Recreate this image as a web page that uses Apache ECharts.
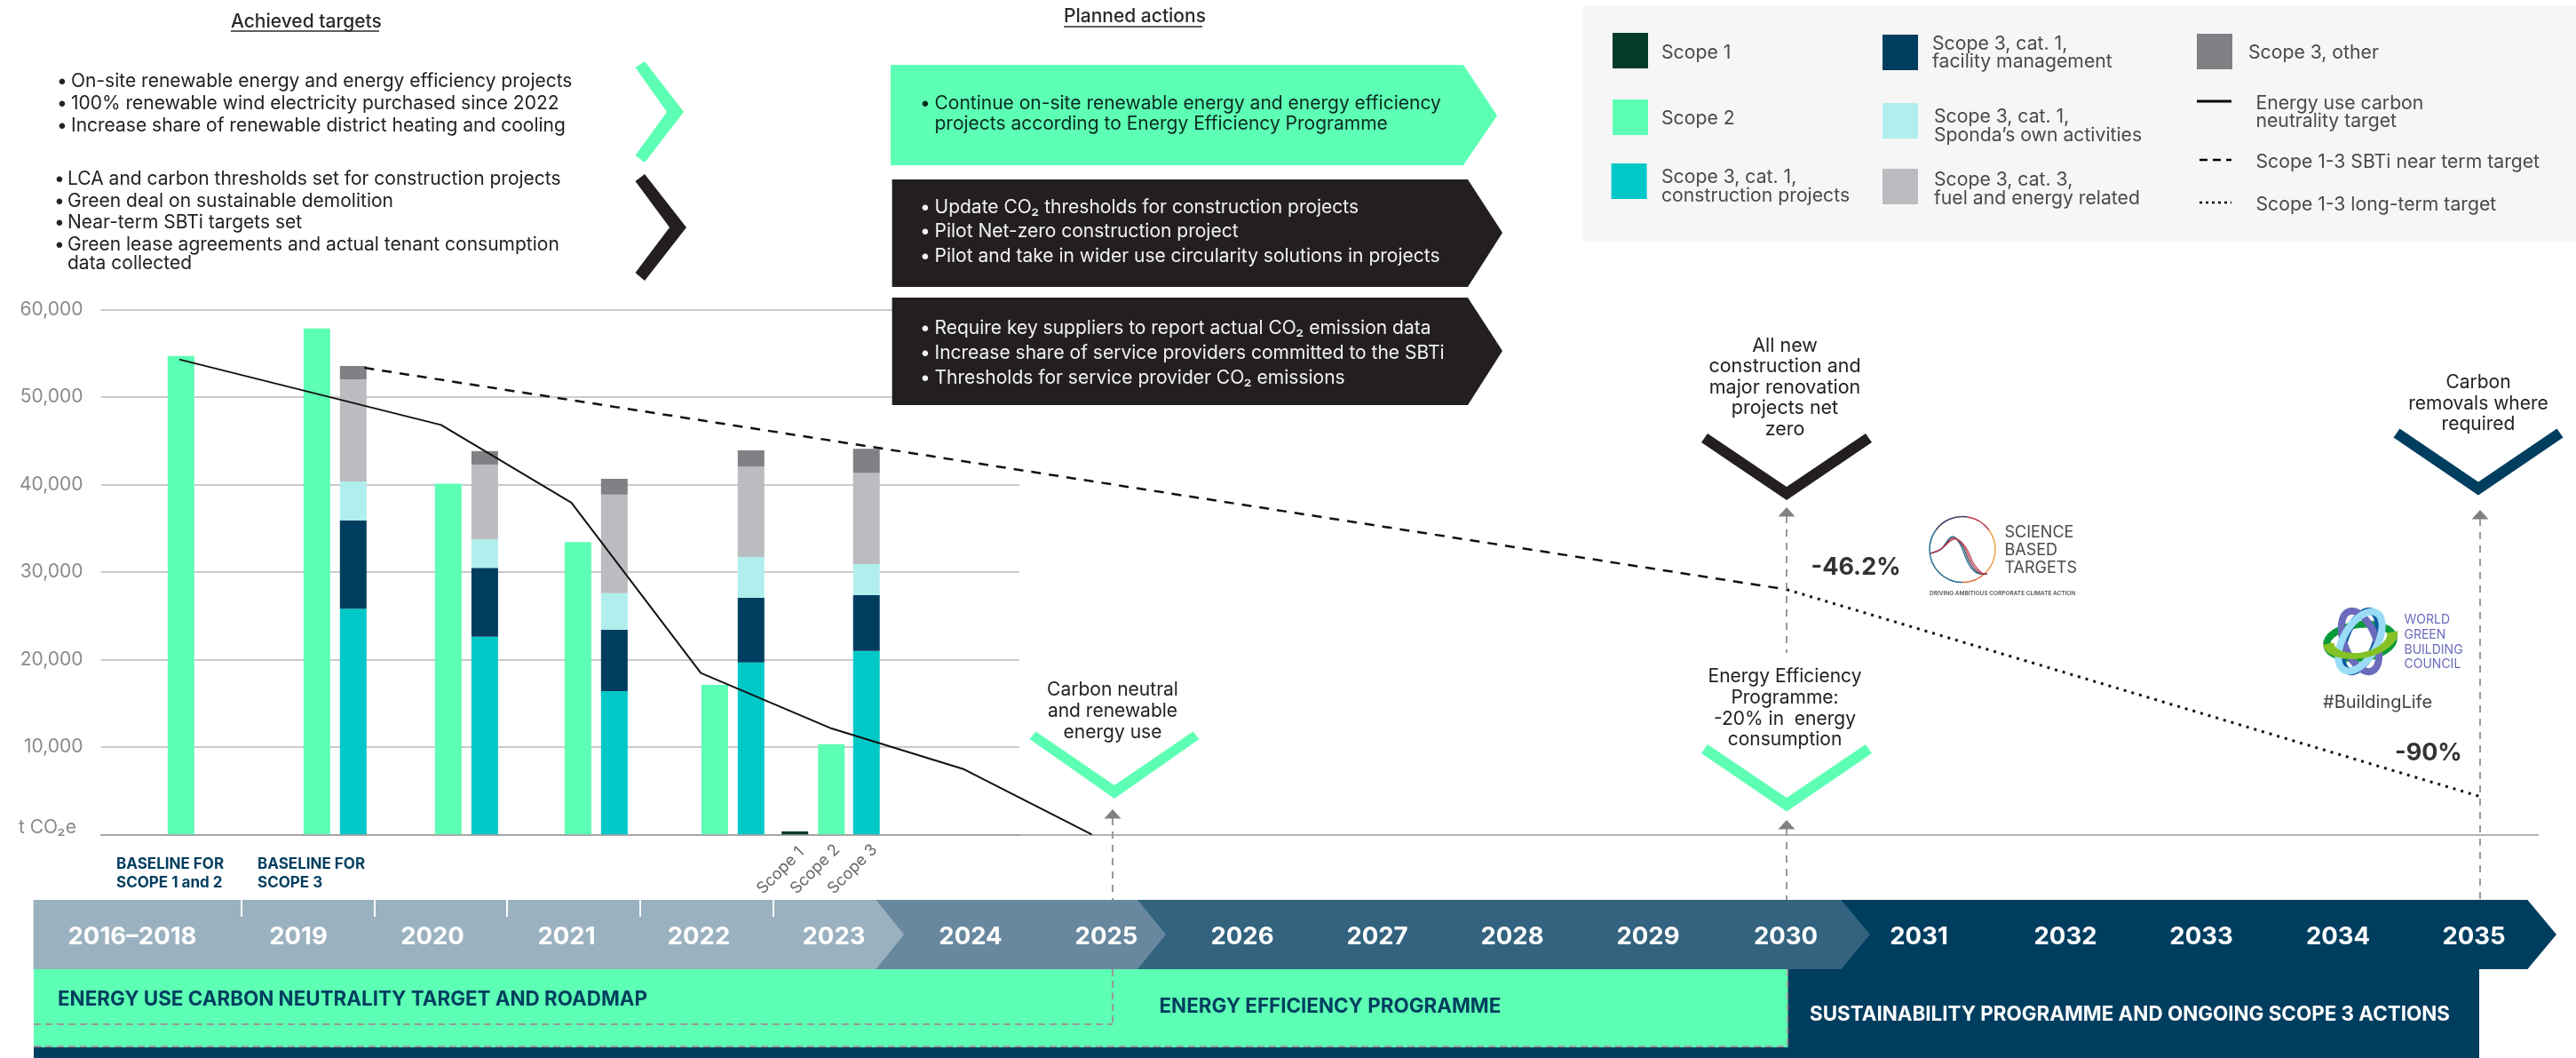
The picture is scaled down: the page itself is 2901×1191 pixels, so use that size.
<!DOCTYPE html>
<html><head><meta charset="utf-8">
<style>html,body{margin:0;padding:0;background:#fff}#c{width:2901px;height:1191px}</style>
<script src="https://cdn.jsdelivr.net/npm/echarts@6/dist/echarts.min.js"></script>
</head><body><div id="c"></div>
<script>
// ---------- data ----------
const barSlotYears = [2018.186, 2019.18, 2019.446, 2020.141, 2020.408, 2021.09, 2021.356, 2022.09, 2022.356, 2022.677, 2022.944, 2023.2];
const scope1       = [null, null, null, null, null, null, null, null, null, 350, null, null];
const scope2       = [54710, 57840, null, 40090, null, 33430, null, 17090, null, null, 10310, null];
const constructionProjects = [null, null, 25810, null, 22600, null, 16390, null, 19650, null, null, 20970];
const facilityManagement   = [null, null, 10090, null, 7880, null, 7000, null, 7400, null, null, 6390];
const ownActivities        = [null, null, 4450, null, 3260, null, 4190, null, 4670, null, null, 3560];
const fuelEnergyRelated    = [null, null, 11670, null, 8550, null, 11270, null, 10350, null, null, 10440];
const scope3Other          = [null, null, 1540, null, 1540, null, 1810, null, 1850, null, null, 2730];
const neutralityYears  = [2018.174, 2020.089, 2021.042, 2021.989, 2022.945, 2023.915, 2024.849];
const neutralityValues = [54310, 46820, 37930, 18460, 12110, 7440, 0];
const nearTermYears  = [2019.528, 2029.933];
const nearTermValues = [53350, 28000];
const longTermYears  = [2029.933, 2035.005];
const longTermValues = [28000, 4330];
const timelineYears = ['2016–2018','2019','2020','2021','2022','2023','2024','2025','2026','2027','2028','2029','2030','2031','2032','2033','2034','2035'];
const achievedGreen = ['On-site renewable energy and energy efficiency projects','100% renewable wind electricity purchased since 2022','Increase share of renewable district heating and cooling'];
const achievedBlack = ['LCA and carbon thresholds set for construction projects','Green deal on sustainable demolition','Near-term SBTi targets set','Green lease agreements and actual tenant consumption','data collected'];

// ---------- styles ----------
const GREEN='#5cffb4', NAVY='#003e5f', TEAL='#00c8c8', PALE='#b1efee', LGREY='#bbbcc0', GREY='#808184', DARK='#043b2b', BLACK='#231f20';
const FF='Inter, "Noto Sans", sans-serif';
const XMIN=2017.6, XMAX=2035.43, XMAX0=2024.319;
const yTicks=v=>v===0?'':v.toLocaleString('en-US');

// ---------- decoration helpers ----------
const G=[];
function T(text,x,y,size,fill,o={}){G.push({type:'text',x,y:y+1,rotation:o.rot||0,z:o.z||50,silent:true,style:{text,fill,align:o.align||'left',verticalAlign:'middle',fontFamily:FF,fontSize:size,fontWeight:o.w||400}});}
function P(pts,fill,z=40){G.push({type:'polygon',z,silent:true,shape:{points:pts},style:{fill}});}
function R(x,y,w,h,fill,z=40){G.push({type:'rect',z,silent:true,shape:{x,y,width:w,height:h},style:{fill}});}
function L(x1,y1,x2,y2,stroke,lineWidth,dash,z=45){G.push({type:'line',z,silent:true,shape:{x1,y1,x2,y2},style:{stroke,lineWidth,lineDash:dash||null}});}
function V(cx,top,half,innerBottom,outerBottom,fill){ // downward chevron
  P([[cx-half+7,top],[cx,innerBottom],[cx+half-7,top],[cx+half,top+10],[cx,outerBottom],[cx-half,top+10]],fill);
}
function upArrow(x,tip){P([[x,tip],[x+9.5,tip+10.5],[x-9.5,tip+10.5]],GREY,46);}

// headings
T('Achieved targets',260,24,21,'#2a2a2a',{w:500}); L(260,35,427,35,'#2a2a2a',1.5);
T('Planned actions',1198,18,21,'#2a2a2a',{w:500}); L(1198,30,1354,30,'#2a2a2a',1.5);
// achieved lists
[91,116,141].forEach((y,i)=>{T('•',64,y,21,'#222');T(achievedGreen[i],80,y,21,'#222');});
[201,226,250,275].forEach((y,i)=>{T('•',61,y,21,'#222');T(achievedBlack[i],76,y,21,'#222');});
T(achievedBlack[4],76,296,21,'#222');
P([[726,69],[770,126],[726,183],[715.5,175],[751,126],[715.5,76]],GREEN);
P([[726,196],[773,256],[726,316],[715.5,307],[754,256],[715.5,204]],BLACK);
// planned boxes
P([[1003,73],[1648,73],[1686,130],[1648,186],[1003,186]],GREEN);
P([[1004.6,202],[1653,202],[1692,262],[1653,323],[1004.6,323]],BLACK);
P([[1004.6,335],[1653,335],[1692,395],[1653,456],[1004.6,456]],BLACK);
[['Continue on-site renewable energy and energy efficiency',116,'#0c2a20'],['projects according to Energy Efficiency Programme',139,'#0c2a20']].forEach((a,i)=>{ if(i==0)T('•',1036,a[1],21,a[2]); T(a[0],1052.5,a[1],21,a[2]);});
[['Update CO₂ thresholds for construction projects',233],['Pilot Net-zero construction project',260],['Pilot and take in wider use circularity solutions in projects',288],
 ['Require key suppliers to report actual CO₂ emission data',369],['Increase share of service providers committed to the SBTi',397],['Thresholds for service provider CO₂ emissions',425]].forEach(a=>{T('•',1036,a[1],21,'#f2f2f2');T(a[0],1052.5,a[1],21,'#f2f2f2');});
// legend panel
R(1783,6,1118,265,'#f6f6f6',30);
[[1816,37,DARK],[1816,112,GREEN],[1814.6,184,TEAL],[2120,39,NAVY],[2120,116,PALE],[2120,190,LGREY],[2474,38,GREY]].forEach(s=>R(s[0],s[1],40,40,s[2],31));
const LG='#4a4a4a';
[['Scope 1',1871,59],['Scope 2',1871,133],['Scope 3, cat. 1,',1871,199],['construction projects',1871,220],['Scope 3, cat. 1,',2176,49],['facility management',2176,69],['Scope 3, cat. 1,',2178,131],['Sponda’s own activities',2178,152],['Scope 3, cat. 3,',2178,202],['fuel and energy related',2178,223],['Scope 3, other',2532,59],['Energy use carbon',2540.5,116],['neutrality target',2540.5,136],['Scope 1-3 SBTi near term target',2540.5,182],['Scope 1-3 long-term target',2540.5,230]].forEach(a=>T(a[0],a[1],a[2],21.2,LG));
L(2474,114,2513,114,'#000',3,null,31); L(2477,180,2513,180,'#000',2.5,[9,6],31); L(2477,228,2513,228,'#000',2.5,[3,4],31);
// axis unit and small notes
T('t CO₂e',21,930.5,21,'#8a8a8a');
[['BASELINE FOR',131,972],['SCOPE 1 and 2',131,992.6],['BASELINE FOR',290,972],['SCOPE 3',290,992.6]].forEach(a=>T(a[0],a[1],a[2],17,NAVY,{w:700}));
[['Scope 1',879,979],['Scope 2',918,977.5],['Scope 3',960,977.5]].forEach(a=>T(a[0],a[1],a[2],18,'#666',{align:'center',rot:Math.PI/4}));
// milestones
[['Carbon neutral',775.8],['and renewable',799.7],['energy use',823.5]].forEach(a=>T(a[0],1253,a[1],21,'#222',{align:'center'}));
P([[1166.5,823.5],[1255,884],[1343.5,823.5],[1350.5,832],[1255,899],[1159.5,832]],GREEN);
upArrow(1253,911); L(1253,921,1253,1013,'#999',2,[8,7]);
[['All new',389],['construction and',412],['major renovation',436],['projects net',459],['zero',483]].forEach(a=>T(a[0],2010,a[1],21.5,'#222',{align:'center'}));
V(2012,488,96,548,563,BLACK);
upArrow(2012,571); L(2012,581,2012,735,'#999',2,[8,7]);
[['Energy Efficiency',761],['Programme:',785],['-20% in  energy',808.6],['consumption',832]].forEach(a=>T(a[0],2010,a[1],21,'#222',{align:'center'}));
V(2012,838,96,898,913.5,GREEN);
upArrow(2012,923); L(2012,933,2012,1013,'#999',2,[8,7]);
[['Carbon',430],['removals where',453.5],['required',477]].forEach(a=>T(a[0],2791,a[1],21,'#222',{align:'center'}));
V(2791,482.4,95.5,542.4,557.6,NAVY);
upArrow(2793,574); L(2793,584,2793,1013,'#999',2,[8,7]);
T('-46.2%',2039.5,638,27,'#333',{w:700}); T('-90%',2697,847,27,'#333',{w:700});
// Science Based Targets mark
const arcs=[['#1f6d8f',Math.PI*0.5,Math.PI*1.2],['#3a3f63',Math.PI*1.2,Math.PI*1.55],['#c2354a',Math.PI*1.55,Math.PI*1.8],['#f0a04a',Math.PI*1.8,Math.PI*2.25],['#e0703c',Math.PI*0.25,Math.PI*0.5]];
arcs.forEach(a=>G.push({type:'arc',z:50,silent:true,shape:{cx:2210,cy:618.5,r:37,startAngle:a[1],endAngle:a[2]},style:{stroke:a[0],fill:null,lineWidth:1.5}}));
[['#1f6d8f',0],['#3a3f63',2],['#a8454f',4],['#c2354a',6]].forEach(a=>G.push({type:'polyline',z:50,silent:true,shape:{smooth:0.4,points:[[2174,623],[2186,618],[2198+a[1]/2,604+a[1]/2],[2207+a[1],612+a[1]/2],[2217+a[1],635],[2226+a[1],645],[2238,646]]},style:{stroke:a[0],fill:null,lineWidth:1.2}}));
[['SCIENCE',599],['BASED',619],['TARGETS',639]].forEach(a=>T(a[0],2257.5,a[1],18,'#4a4a4a'));
T('DRIVING AMBITIOUS CORPORATE CLIMATE ACTION',2173,667,6.5,'#555',{w:600});
// World GBC mark
[['#0b9a3a',38,19,0.12],['#0b5aa5',36,17,1.2],['#6a6bbd',36,18,-1.2],['#9adcf5',37,19,1.05]].forEach(e=>G.push({type:'ellipse',z:50,silent:true,x:2658,y:722,rotation:e[3],shape:{cx:0,cy:0,rx:e[1],ry:e[2]},style:{stroke:e[0],fill:null,lineWidth:8}}));
G.push({type:'arc',z:51,silent:true,x:2658,y:718,rotation:0.18,scaleX:1.02,scaleY:0.55,shape:{cx:0,cy:0,r:36,startAngle:0,endAngle:Math.PI},style:{stroke:'#84c225',fill:null,lineWidth:12}});
[['WORLD',697],['GREEN',714],['BUILDING',730.6],['COUNCIL',747]].forEach(a=>T(a[0],2707.5,a[1],14,'#6a6bbd'));
T('#BuildingLife',2616,790,20,'#444');
// timeline chevrons
P([[1900,1013],[2846.4,1013],[2879,1052],[2846.4,1091],[1900,1091]],NAVY,20);
P([[1200,1013],[2073.5,1013],[2106,1052],[2073.5,1091],[1200,1091]],'#33637f',21);
P([[900,1013],[1281,1013],[1313,1052],[1281,1091],[900,1091]],'#68889f',22);
P([[37.6,1013],[986.6,1013],[1018,1052],[986.6,1091],[37.6,1091]],'#9ab1bf',23);
[272,422,571,721,871].forEach(x=>L(x,1013,x,1032,'#fff',2,null,24));
const yearX=[149,336,487,638,787,939,1093,1246,1399,1551,1703,1856,2011,2161,2326,2479,2633,2786];
timelineYears.forEach((t,i)=>T(t,yearX[i],1054,27.5,'#fff',{align:'center',w:700}));
// programme bands
R(38,1091,2754,100,NAVY,20);
R(38,1091,1975.5,88,GREEN,21);
L(38,1178,2013,1178,'#999',2,[8,5],26); L(2013,1091,2013,1178,'#999',2,[8,5],26);
L(38,1153,1253,1153,'#999',2,[8,5],26); L(1253,1091,1253,1153,'#999',2,[8,5],26);
T('ENERGY USE CARBON NEUTRALITY TARGET AND ROADMAP',65,1124,22.4,NAVY,{w:700});
T('ENERGY EFFICIENCY PROGRAMME',1305.5,1132,22.4,NAVY,{w:700});
T('SUSTAINABILITY PROGRAMME AND ONGOING SCOPE 3 ACTIONS',2038,1141,22.4,'#fff',{w:700});

// ---------- series ----------
const pairs=(xs,ys)=>xs.map((x,i)=>[x,ys[i]]);
// value comes first in each row so that the stack runs along the value axis
const bar=(name,vals,color)=>({name,type:'bar',xAxisIndex:0,yAxisIndex:0,stack:'emissions',barWidth:30,z:2,encode:{x:1,y:0},itemStyle:{color},data:vals.map((v,i)=>[v,barSlotYears[i]])});
const line=(name,xs,ys,width,type)=>({name,type:'line',xAxisIndex:1,yAxisIndex:1,z:5,symbol:'none',silent:true,lineStyle:{color:'#111',width,type},data:pairs(xs,ys)});

const chart=echarts.init(document.getElementById('c'),null,{renderer:'canvas'});
chart.setOption({
  animation:false,backgroundColor:'#fff',
  grid:[{left:113.6,top:348.6,width:1034.4,height:590.7},{left:113.6,top:348.6,width:2744.9,height:590.7}],
  xAxis:[{type:'value',gridIndex:0,min:XMIN,max:XMAX0,show:false},
         {type:'value',gridIndex:1,min:XMIN,max:XMAX,splitLine:{show:false},axisTick:{show:false},axisLabel:{show:false},axisLine:{show:true,lineStyle:{color:'#9a9a9a',width:1.5}}}],
  yAxis:[{type:'value',gridIndex:0,min:0,max:60000,interval:10000,axisLine:{show:false},axisTick:{show:false},
          axisLabel:{color:'#8a8a8a',fontFamily:FF,fontSize:21,margin:20,formatter:yTicks},splitLine:{lineStyle:{color:'#b8b8b8',width:1.5}}},
         {type:'value',gridIndex:1,min:0,max:60000,interval:10000,show:false,splitLine:{show:false}}],
  series:[
    bar('Scope 1',scope1,DARK),bar('Scope 2',scope2,GREEN),
    bar('Scope 3, cat. 1, construction projects',constructionProjects,TEAL),
    bar('Scope 3, cat. 1, facility management',facilityManagement,NAVY),
    bar('Scope 3, cat. 1, Sponda’s own activities',ownActivities,PALE),
    bar('Scope 3, cat. 3, fuel and energy related',fuelEnergyRelated,LGREY),
    bar('Scope 3, other',scope3Other,GREY),
    line('Energy use carbon neutrality target',neutralityYears,neutralityValues,2,'solid'),
    line('Scope 1-3 SBTi near term target',nearTermYears,nearTermValues,2.5,[11,9]),
    line('Scope 1-3 long-term target',longTermYears,longTermValues,3,[3,6])
  ],
  graphic:{elements:G}
});
</script></body></html>
